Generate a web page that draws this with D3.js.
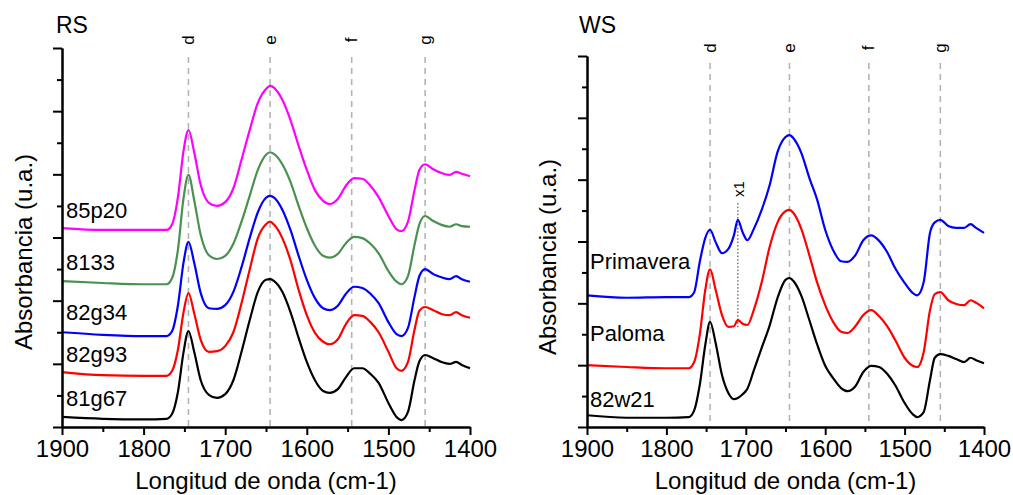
<!DOCTYPE html>
<html>
<head>
<meta charset="utf-8">
<script src="https://cdnjs.cloudflare.com/ajax/libs/d3/7.8.5/d3.min.js"></script>
<style>
  body { margin: 0; background: #fff; }
  svg { display: block; font-family: Arial, "Liberation Sans", sans-serif; }
</style>
</head>
<body>
<svg id="chart" width="1013" height="495"></svg>
<script>
// wavenumbers (cm-1) the spectra were read at
const wavenumbersRS = [1900, 1850, 1800, 1772, 1765, 1758, 1751, 1745, 1738, 1730, 1720, 1710, 1700, 1690, 1680, 1670, 1660, 1650, 1645, 1640, 1630, 1620, 1610, 1600, 1590, 1580, 1572, 1562, 1552, 1542, 1532, 1522, 1512, 1500, 1490, 1484, 1476, 1468, 1462, 1455, 1445, 1435, 1425, 1417, 1410, 1400];
const wavenumbersWS = [1900, 1850, 1800, 1772, 1765, 1758, 1751, 1745, 1738, 1730, 1722, 1715, 1710, 1704, 1698, 1690, 1680, 1670, 1660, 1650, 1645, 1640, 1630, 1620, 1610, 1600, 1590, 1580, 1572, 1562, 1552, 1542, 1532, 1522, 1512, 1500, 1490, 1484, 1476, 1468, 1462, 1455, 1445, 1435, 1425, 1417, 1410, 1400];

// RS spectra (stacked, arbitrary units)
const s81g67 = [0.16, 0.13, 0.12, 0.13, 0.21, 0.55, 1.19, 1.52, 1.19, 0.74, 0.51, 0.46, 0.52, 0.74, 1.19, 1.69, 2.14, 2.33, 2.34, 2.31, 2.14, 1.82, 1.41, 1.03, 0.74, 0.57, 0.54, 0.60, 0.79, 0.93, 0.93, 0.84, 0.70, 0.38, 0.16, 0.11, 0.24, 0.74, 1.04, 1.14, 1.09, 1.03, 1.00, 1.03, 0.98, 0.93];
const s82g93 = [0.87, 0.82, 0.81, 0.81, 0.89, 1.22, 1.82, 2.12, 1.80, 1.38, 1.19, 1.20, 1.28, 1.50, 1.96, 2.49, 2.99, 3.21, 3.25, 3.20, 2.99, 2.64, 2.17, 1.77, 1.49, 1.35, 1.31, 1.39, 1.63, 1.77, 1.76, 1.66, 1.50, 1.19, 0.93, 0.89, 1.03, 1.54, 1.84, 1.90, 1.85, 1.79, 1.77, 1.82, 1.77, 1.73];
const s82g34 = [1.50, 1.46, 1.44, 1.44, 1.52, 1.92, 2.61, 2.93, 2.60, 2.12, 1.88, 1.87, 1.93, 2.14, 2.53, 2.99, 3.40, 3.63, 3.66, 3.63, 3.44, 3.12, 2.71, 2.33, 2.04, 1.88, 1.85, 1.92, 2.11, 2.22, 2.20, 2.11, 1.96, 1.66, 1.47, 1.44, 1.57, 2.06, 2.39, 2.50, 2.42, 2.37, 2.34, 2.39, 2.34, 2.30];
const s8133 = [2.31, 2.28, 2.26, 2.26, 2.36, 2.80, 3.63, 3.99, 3.59, 3.04, 2.72, 2.66, 2.71, 2.90, 3.25, 3.66, 4.07, 4.31, 4.35, 4.32, 4.16, 3.88, 3.50, 3.15, 2.87, 2.71, 2.68, 2.74, 2.91, 3.01, 2.99, 2.90, 2.75, 2.47, 2.30, 2.26, 2.39, 2.88, 3.21, 3.34, 3.26, 3.20, 3.17, 3.21, 3.18, 3.17];
const s85p20 = [3.15, 3.12, 3.12, 3.12, 3.21, 3.63, 4.38, 4.70, 4.35, 3.83, 3.55, 3.50, 3.56, 3.78, 4.23, 4.70, 5.13, 5.35, 5.40, 5.37, 5.18, 4.86, 4.45, 4.07, 3.75, 3.58, 3.53, 3.61, 3.82, 3.94, 3.93, 3.82, 3.64, 3.34, 3.13, 3.10, 3.25, 3.75, 4.07, 4.16, 4.08, 4.02, 3.99, 4.04, 4.01, 3.97];

// WS spectra
const s82w21 = [0.19, 0.15, 0.15, 0.16, 0.27, 0.68, 1.33, 1.70, 1.36, 0.84, 0.55, 0.45, 0.47, 0.53, 0.62, 0.91, 1.28, 1.64, 2.09, 2.38, 2.41, 2.36, 2.12, 1.73, 1.33, 0.99, 0.79, 0.63, 0.58, 0.66, 0.89, 0.99, 0.97, 0.86, 0.68, 0.39, 0.21, 0.16, 0.24, 0.76, 1.12, 1.18, 1.15, 1.10, 1.05, 1.12, 1.08, 1.03];
const sPaloma = [1.00, 0.97, 0.95, 0.95, 1.05, 1.49, 2.22, 2.55, 2.22, 1.81, 1.62, 1.63, 1.73, 1.67, 1.65, 1.89, 2.34, 2.91, 3.31, 3.49, 3.51, 3.46, 3.20, 2.78, 2.33, 1.97, 1.70, 1.54, 1.52, 1.63, 1.81, 1.89, 1.79, 1.63, 1.41, 1.12, 0.99, 0.97, 1.21, 1.89, 2.15, 2.18, 2.05, 1.99, 1.97, 2.05, 2.01, 1.92];
const sPrimavera = [2.13, 2.09, 2.10, 2.10, 2.18, 2.67, 3.06, 3.19, 2.99, 2.81, 2.88, 3.10, 3.35, 3.15, 3.02, 3.20, 3.51, 3.91, 4.45, 4.69, 4.72, 4.67, 4.43, 4.03, 3.67, 3.19, 2.86, 2.68, 2.67, 2.78, 3.02, 3.10, 3.01, 2.83, 2.57, 2.33, 2.17, 2.13, 2.34, 3.14, 3.31, 3.35, 3.25, 3.22, 3.22, 3.28, 3.22, 3.14];

const bandPositions = [1745, 1645, 1545, 1455];
const bandLabels = ['d', 'e', 'f', 'g'];
const xTicks = [1900, 1800, 1700, 1600, 1500, 1400];
const xMinorTicks = [1850, 1750, 1650, 1550, 1450];
const yTicks = [0, 1, 2, 3, 4, 5, 6];
const yMinorTicks = [0.5, 1.5, 2.5, 3.5, 4.5, 5.5];
const x1Mark = {wavenumber: 1710, from: 1.60, to: 3.62};

const svg = d3.select('#chart');

function drawPanel(cfg) {
  const x = d3.scaleLinear().domain([1900, 1400]).range([cfg.left, cfg.right]);
  const y = d3.scaleLinear().domain([0, 6]).range([cfg.bottom, cfg.top]);
  const g = svg.append('g');

  // band guides
  bandPositions.forEach((b, i) => {
    g.append('line')
      .attr('x1', x(b)).attr('x2', x(b))
      .attr('y1', cfg.guideTop).attr('y2', cfg.bottom)
      .attr('stroke', '#b4b4b4').attr('stroke-width', 1.6)
      .attr('stroke-dasharray', '6,5');
    g.append('text')
      .attr('transform', `translate(${x(b)},${cfg.bandLabelY}) rotate(-90)`)
      .attr('text-anchor', 'middle').attr('dominant-baseline', 'central')
      .attr('font-size', 17).text(bandLabels[i]);
  });

  const line = d3.line()
    .x((d, i) => x(cfg.wavenumbers[i]))
    .y(d => y(d))
    .curve(d3.curveMonotoneX);

  cfg.series.forEach(s => {
    g.append('path')
      .attr('d', line(s.values))
      .attr('fill', 'none')
      .attr('stroke', s.color)
      .attr('stroke-width', 2.2)
      .attr('stroke-linejoin', 'round');
    g.append('text')
      .attr('x', cfg.left + cfg.labelDx).attr('y', s.labelY)
      .attr('font-size', 22).text(s.name);
  });

  // axes
  const xAxis = g.append('g').attr('transform', `translate(0,${cfg.bottom})`)
    .call(d3.axisBottom(x).tickValues(xTicks).tickSize(8).tickSizeOuter(0).tickPadding(5).tickFormat(d3.format('d')));
  g.append('g').attr('transform', `translate(0,${cfg.bottom})`)
    .call(d3.axisBottom(x).tickValues(xMinorTicks).tickSize(5).tickSizeOuter(0).tickFormat(''));
  g.append('g').attr('transform', `translate(${cfg.left},0)`)
    .call(d3.axisLeft(y).tickValues(yTicks).tickSize(9).tickSizeOuter(0).tickFormat(''));
  g.append('g').attr('transform', `translate(${cfg.left},0)`)
    .call(d3.axisLeft(y).tickValues(yMinorTicks).tickSize(5).tickSizeOuter(0).tickFormat(''));
  g.selectAll('.domain, .tick line').attr('stroke', '#000').attr('stroke-width', 2);
  xAxis.selectAll('text').attr('font-size', 24).attr('fill', '#000')
    .attr('font-family', 'Arial, "Liberation Sans", sans-serif');

  g.append('text')
    .attr('x', (cfg.left + cfg.right) / 2).attr('y', 489)
    .attr('text-anchor', 'middle').attr('font-size', 24)
    .text('Longitud de onda (cm-1)');
  g.append('text')
    .attr('transform', `translate(${cfg.yLabelX},${cfg.yLabelY}) rotate(-90)`)
    .attr('text-anchor', 'middle').attr('dominant-baseline', 'central')
    .attr('font-size', 24).text('Absorbancia (u.a.)');
  g.append('text')
    .attr('x', cfg.titleX).attr('y', 33)
    .attr('font-size', 23).text(cfg.title);

  return {x, y, g};
}

drawPanel({
  title: 'RS', titleX: 56, left: 62, right: 470, top: 48, bottom: 427,
  guideTop: 57, bandLabelY: 40, labelDx: 4, yLabelX: 23, yLabelY: 252,
  wavenumbers: wavenumbersRS,
  series: [
    {name: '81g67', values: s81g67, color: '#000000', labelY: 406},
    {name: '82g93', values: s82g93, color: '#ff0000', labelY: 362},
    {name: '82g34', values: s82g34, color: '#0000ff', labelY: 320},
    {name: '8133', values: s8133, color: '#4a9150', labelY: 270},
    {name: '85p20', values: s85p20, color: '#ff00ff', labelY: 218}
  ]
});

const ws = drawPanel({
  title: 'WS', titleX: 579, left: 587, right: 984, top: 56, bottom: 427,
  guideTop: 63, bandLabelY: 48, labelDx: 3, yLabelX: 547, yLabelY: 257,
  wavenumbers: wavenumbersWS,
  series: [
    {name: '82w21', values: s82w21, color: '#000000', labelY: 407},
    {name: 'Paloma', values: sPaloma, color: '#ff0000', labelY: 341},
    {name: 'Primavera', values: sPrimavera, color: '#0000ff', labelY: 269}
  ]
});

// x1 marker on the 1710 band
ws.g.append('line')
  .attr('x1', ws.x(x1Mark.wavenumber)).attr('x2', ws.x(x1Mark.wavenumber))
  .attr('y1', ws.y(x1Mark.to)).attr('y2', ws.y(x1Mark.from))
  .attr('stroke', '#333').attr('stroke-width', 1)
  .attr('stroke-dasharray', '1.5,2');
ws.g.append('text')
  .attr('transform', `translate(${ws.x(x1Mark.wavenumber) + 1},${ws.y(x1Mark.to) - 14}) rotate(-90)`)
  .attr('text-anchor', 'middle').attr('dominant-baseline', 'central')
  .attr('font-size', 15).text('x1');
</script>
</body>
</html>
